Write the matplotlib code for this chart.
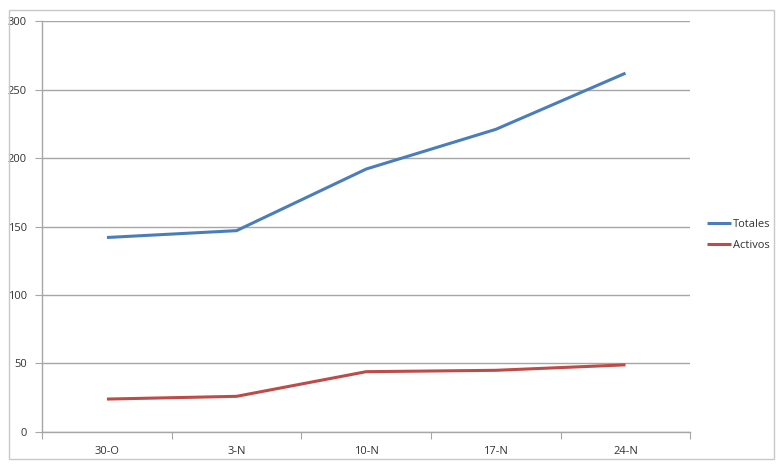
import matplotlib.pyplot as plt
import numpy as np
from matplotlib.patches import Rectangle

fechas = ["30-O", "3-N", "10-N", "17-N", "24-N"]
totales = [142, 147, 192, 221, 262]
activos = [24, 26, 44, 45, 49]

plt.rcParams['font.family'] = ['Open Sans', 'DejaVu Sans']

fig = plt.figure(figsize=(7.8, 4.7), dpi=100)
ax = fig.add_axes([0.054, 0.081, 0.831, 0.874])

x = np.arange(len(fechas))
ax.plot(x, totales, color="#4a7ebb", lw=2.2, label="Totales", solid_capstyle="butt")
ax.plot(x, activos, color="#be4b48", lw=2.2, label="Activos", solid_capstyle="butt")

ax.set_xlim(-0.5, len(fechas) - 0.5)
ax.set_ylim(0, 300)
ax.set_yticks(np.arange(0, 301, 50))
ax.grid(axis="y", color="#a6a6a6", lw=1)
ax.set_axisbelow(True)

# category ticks between categories, labels centred
ax.set_xticks(np.arange(-0.5, len(fechas)), minor=False)
ax.set_xticklabels([])
ax.set_xticks(x, minor=True)
ax.set_xticklabels(fechas, minor=True)
ax.tick_params(axis="x", which="major", length=5, color="#a6a6a6", direction="out")
ax.tick_params(axis="x", which="minor", length=0, pad=10, labelsize=8, labelcolor="#333333")
ax.tick_params(axis="y", length=5, color="#a6a6a6", labelsize=8, labelcolor="#333333", pad=6)

for s in ["top", "right"]:
    ax.spines[s].set_visible(False)
for s in ["left", "bottom"]:
    ax.spines[s].set_color("#a6a6a6")
    ax.spines[s].set_linewidth(1)

fig.legend(loc="center left", bbox_to_anchor=(0.893, 0.5), frameon=False,
           fontsize=8, handlelength=2.2, handletextpad=0.2, labelspacing=0.85,
           labelcolor="#333333")

fig.patches.append(Rectangle((0.012, 0.023), 0.98, 0.955, transform=fig.transFigure,
                             fill=False, edgecolor="#c8c8c8", lw=1))

fig.savefig("out.png", dpi=100)
